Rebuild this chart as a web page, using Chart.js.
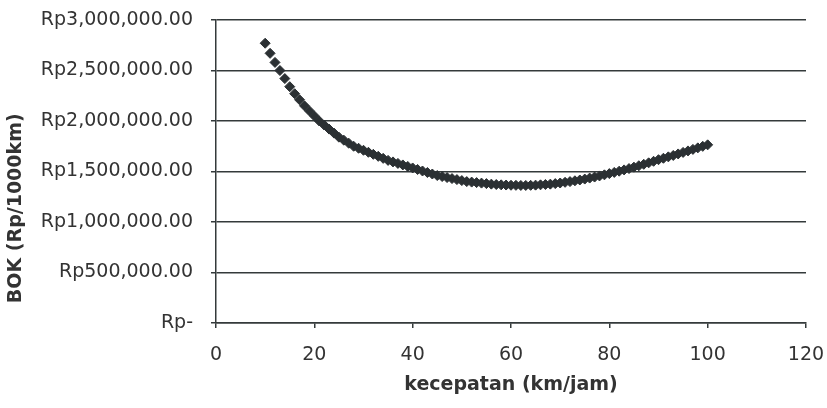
<!DOCTYPE html>
<html>
<head>
<meta charset="utf-8">
<script src="https://cdn.jsdelivr.net/npm/chart.js@4/dist/chart.umd.min.js"></script>
<style>
  html, body { margin: 0; padding: 0; background: #ffffff; }
  #wrap { width: 827px; height: 408px; }
</style>
</head>
<body>
<div id="wrap"><canvas id="chart-bok" width="827" height="408"></canvas></div>
<script>
// kecepatan (km/jam), 10 .. 100
const kecepatan = [
  10, 11, 12, 13, 14, 15, 16, 17, 18, 19,
  20, 21, 22, 23, 24, 25, 26, 27, 28, 29,
  30, 31, 32, 33, 34, 35, 36, 37, 38, 39,
  40, 41, 42, 43, 44, 45, 46, 47, 48, 49,
  50, 51, 52, 53, 54, 55, 56, 57, 58, 59,
  60, 61, 62, 63, 64, 65, 66, 67, 68, 69,
  70, 71, 72, 73, 74, 75, 76, 77, 78, 79,
  80, 81, 82, 83, 84, 85, 86, 87, 88, 89,
  90, 91, 92, 93, 94, 95, 96, 97, 98, 99,
  100,
];

// BOK (Rp/1000km)
const bok = [
  2770000, 2670000, 2580000, 2500000, 2420000, 2340000, 2270000, 2210000, 2150000, 2100000,
  2050000, 2000000, 1960000, 1920000, 1880000, 1840000, 1810000, 1780000, 1750000, 1730000,
  1710000, 1690000, 1670000, 1650000, 1630000, 1610000, 1595000, 1580000, 1565000, 1550000,
  1535000, 1520000, 1505000, 1490000, 1475000, 1460000, 1450000, 1440000, 1430000, 1420000,
  1410000, 1400000, 1395000, 1390000, 1385000, 1380000, 1375000, 1371000, 1368000, 1366000,
  1364000, 1363000, 1362000, 1362000, 1363000, 1365000, 1368000, 1371000, 1375000, 1380000,
  1386000, 1393000, 1400000, 1408000, 1416000, 1425000, 1435000, 1445000, 1456000, 1467000,
  1479000, 1491000, 1503000, 1516000, 1529000, 1543000, 1557000, 1571000, 1586000, 1601000,
  1617000, 1631000, 1645000, 1659000, 1674000, 1689000, 1704000, 1719000, 1734000, 1749000,
  1764000,
];

// tick labels
const yTickValues = [0, 500000, 1000000, 1500000, 2000000, 2500000, 3000000];
const yTickLabels = [
  "Rp-",
  "Rp500,000.00",
  "Rp1,000,000.00",
  "Rp1,500,000.00",
  "Rp2,000,000.00",
  "Rp2,500,000.00",
  "Rp3,000,000.00",
];
const xTickLabels = ["0", "20", "40", "60", "80", "100", "120"];

const points = kecepatan.map((v, i) => ({ x: v, y: bok[i] }));

const gridColor = "#343a3b";
const textColor = "#333333";

const ctxBok = document.getElementById("chart-bok");
new Chart(ctxBok, {
  type: "scatter",
  data: {
    datasets: [
      {
        label: "BOK",
        data: points,
        showLine: false,
        pointStyle: "rectRot",
        pointRadius: 5,
        pointBorderWidth: 1,
        pointBackgroundColor: "#2b3033",
        pointBorderColor: "#2b3033",
      },
    ],
  },
  options: {
    responsive: false,
    animation: false,
    layout: {
      padding: { top: 20, right: 21, bottom: 0, left: 0 },
    },
    plugins: {
      legend: { display: false },
      tooltip: { enabled: false },
    },
    scales: {
      x: {
        type: "linear",
        min: 0,
        max: 120,
        afterBuildTicks: (scale) => {
          scale.ticks = xTickLabels.map((t) => ({ value: Number(t) }));
        },
        afterFit: (scale) => {
          scale.height = 85;
          // labels may overhang; let layout padding decide the plot edge
          scale.paddingRight = 0;
          scale.paddingLeft = 0;
        },
        ticks: {
          padding: 16,
          color: textColor,
          font: { family: "DejaVu Sans", size: 19 },
          callback: (value, index) => xTickLabels[index],
          maxRotation: 0,
        },
        grid: {
          drawOnChartArea: false,
          drawTicks: true,
          tickLength: 5,
          color: gridColor,
          lineWidth: 1.5,
        },
        border: { color: gridColor, width: 1.5 },
        title: {
          display: true,
          text: "kecepatan (km/jam)",
          color: textColor,
          font: { family: "DejaVu Sans", size: 19, weight: "bold" },
          padding: { top: 0, bottom: 12 },
        },
      },
      y: {
        type: "linear",
        min: 0,
        max: 3000000,
        afterBuildTicks: (scale) => {
          scale.ticks = yTickValues.map((v) => ({ value: v }));
        },
        afterFit: (scale) => {
          scale.width = 216;
          scale.paddingTop = 0;
          scale.paddingBottom = 0;
        },
        ticks: {
          padding: 18,
          color: textColor,
          font: { family: "DejaVu Sans", size: 19 },
          callback: (value, index) => yTickLabels[index],
        },
        grid: {
          color: gridColor,
          lineWidth: 1.5,
          tickLength: 5,
        },
        border: { color: gridColor, width: 1.5 },
        title: {
          display: true,
          // the title sits lower than centre in the original, start-aligned with a small lead
          text: "\u00a0\u00a0\u00a0BOK (Rp/1000km)",
          align: "start",
          color: textColor,
          font: { family: "DejaVu Sans", size: 19, weight: "bold" },
          padding: { top: 5, bottom: 0 },
        },
      },
    },
  },
});
</script>
</body>
</html>
